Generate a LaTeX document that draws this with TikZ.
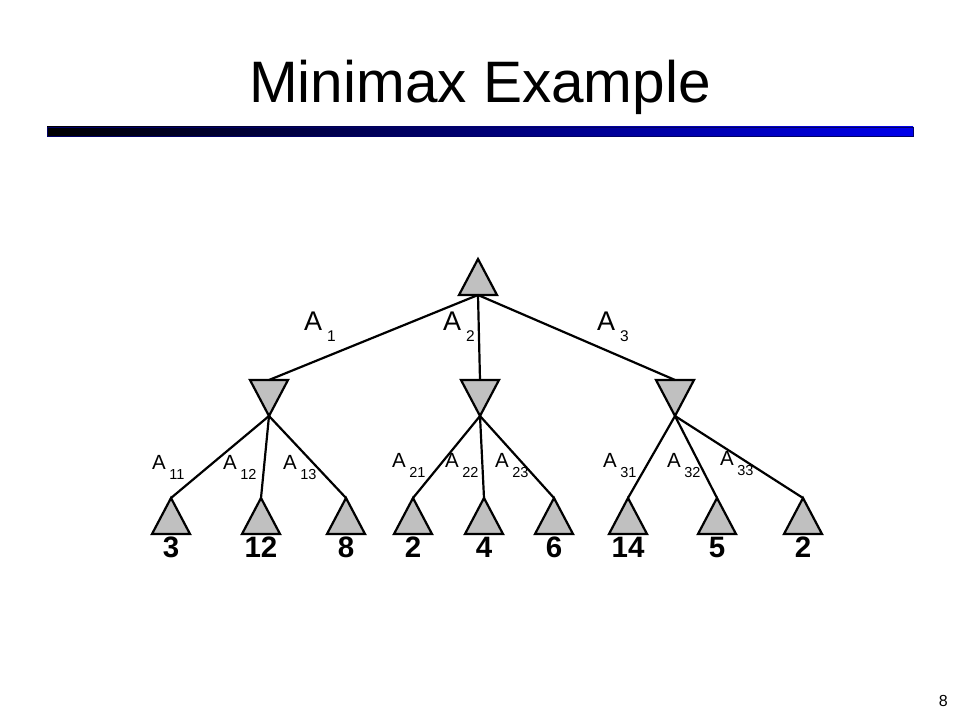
\documentclass[tikz,border=0pt]{standalone}
\usepackage{fontspec}
\setmainfont{Liberation Sans}
\usetikzlibrary{shapes.geometric,positioning}
\definecolor{nodegray}{RGB}{192,192,192}
\definecolor{barblue}{RGB}{0,0,235}
\newcommand{\bigmove}[1]{A\hspace{5pt}\raisebox{-11pt}{\fontsize{15.5}{16}\selectfont #1}}
\newcommand{\smallmove}[1]{A\hspace{3.5pt}\raisebox{-10pt}{\fontsize{14.5}{15}\selectfont #1}}

\begin{document}
\begin{tikzpicture}[x=1pt,y=1pt,
  tri/.style={shape=isosceles triangle, isosceles triangle stretches, draw=black,
    line width=2.2pt, fill=nodegray, minimum width=38pt, minimum height=36pt,
    inner sep=0pt, outer sep=0pt},
  maxnode/.style={tri, shape border rotate=90},
  minnode/.style={tri, shape border rotate=270},
  edge/.style={line width=2.2pt},
  value/.style={font=\fontsize{29.5}{31}\selectfont\bfseries, inner sep=0pt},
  bigact/.style={font=\fontsize{27}{30}\selectfont, inner sep=0pt, anchor=base west},
  smallact/.style={font=\fontsize{20.5}{22}\selectfont, inner sep=0pt, anchor=base west}]
\useasboundingbox (0,0) rectangle (960,720);
\node[font=\fontsize{58.5}{60}\selectfont, anchor=base, inner sep=0pt] (title) at (480,617) {Minimax Example};
\shadedraw[left color=black, middle color=barblue!80!black, right color=barblue,
  draw=black!60!blue, line width=0.6pt] (47,584) rectangle (913,593); % title bar
\node[font=\fontsize{16}{17}\selectfont, anchor=base east, inner sep=0pt] (page) at (948,14) {8};

\node[maxnode, anchor=apex] (root) at (478,461) {};              % max
\node[minnode, anchor=lower side] (n1) at (269,340) {};           % min
\node[minnode, anchor=lower side] (n2) at (480,340) {};
\node[minnode, anchor=lower side] (n3) at (675,340) {};
\node[maxnode, anchor=apex] (l11) at (171,222) {};                % leaves
\node[maxnode, anchor=apex] (l12) at (261,222) {};
\node[maxnode, anchor=apex] (l13) at (346,222) {};
\node[maxnode, anchor=apex] (l21) at (413,222) {};
\node[maxnode, anchor=apex] (l22) at (484,222) {};
\node[maxnode, anchor=apex] (l23) at (554,222) {};
\node[maxnode, anchor=apex] (l31) at (628,222) {};
\node[maxnode, anchor=apex] (l32) at (717,222) {};
\node[maxnode, anchor=apex] (l33) at (803,222) {};

\node[value, below=3pt of l11.lower side] (v11) {3};
\node[value, below=3pt of l12.lower side] (v12) {12};
\node[value, below=3pt of l13.lower side] (v13) {8};
\node[value, below=3pt of l21.lower side] (v21) {2};
\node[value, below=3pt of l22.lower side] (v22) {4};
\node[value, below=3pt of l23.lower side] (v23) {6};
\node[value, below=3pt of l31.lower side] (v31) {14};
\node[value, below=3pt of l32.lower side] (v32) {5};
\node[value, below=3pt of l33.lower side] (v33) {2};

\draw[edge] (root.lower side) -- (n1.lower side);
\draw[edge] (root.lower side) -- (n2.lower side);
\draw[edge] (root.lower side) -- (n3.lower side);
\draw[edge] (n1.apex) -- (l11.apex);
\draw[edge] (n1.apex) -- (l12.apex);
\draw[edge] (n1.apex) -- (l13.apex);
\draw[edge] (n2.apex) -- (l21.apex);
\draw[edge] (n2.apex) -- (l22.apex);
\draw[edge] (n2.apex) -- (l23.apex);
\draw[edge] (n3.apex) -- (l31.apex);
\draw[edge] (n3.apex) -- (l32.apex);
\draw[edge] (n3.apex) -- (l33.apex);

\node[bigact] (a1) at (304,389) {\bigmove{1}};
\node[bigact] (a2) at (443,389) {\bigmove{2}};
\node[bigact] (a3) at (597,389) {\bigmove{3}};
\node[smallact] (a11) at (152,250) {\smallmove{11}};
\node[smallact] (a12) at (223,250) {\smallmove{12}};
\node[smallact] (a13) at (283,250) {\smallmove{13}};
\node[smallact] (a21) at (392,252) {\smallmove{21}};
\node[smallact] (a22) at (445,252) {\smallmove{22}};
\node[smallact] (a23) at (495,252) {\smallmove{23}};
\node[smallact] (a31) at (603,252) {\smallmove{31}};
\node[smallact] (a32) at (667,252) {\smallmove{32}};
\node[smallact] (a33) at (720,254) {\smallmove{33}};
\end{tikzpicture}
\end{document}
